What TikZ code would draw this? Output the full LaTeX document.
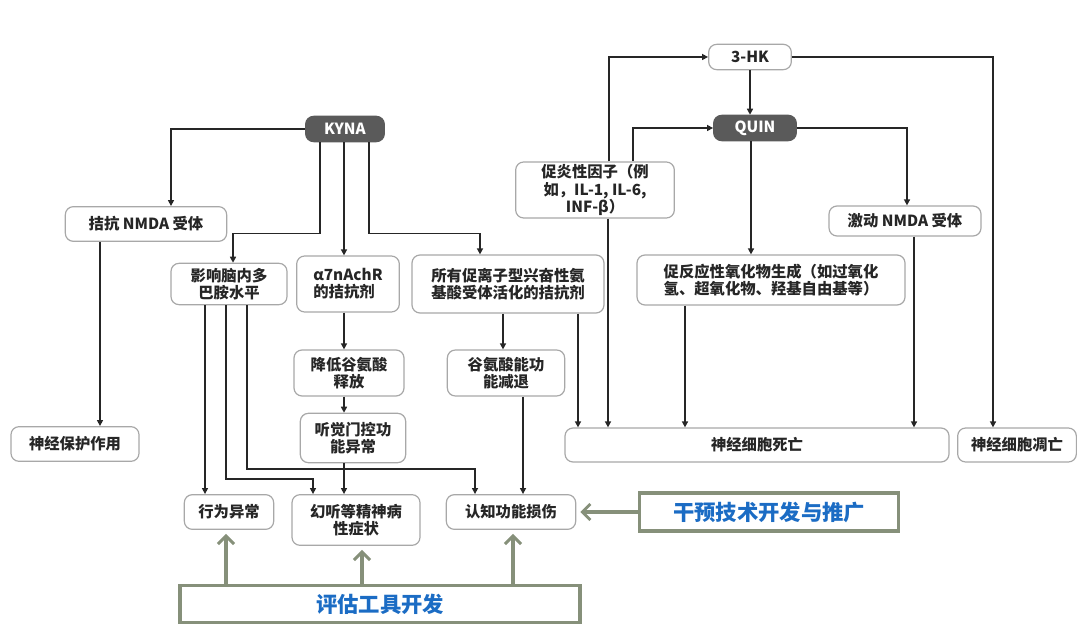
\documentclass[tikz,border=0pt]{standalone}
\usepackage{fontspec}
\setmainfont{Noto Sans CJK SC}
\usetikzlibrary{arrows.meta}
\usetikzlibrary{calc}

\definecolor{darkfill}{HTML}{5A5A5A}
\definecolor{boxgray}{HTML}{A8A8A8}
\definecolor{textdark}{HTML}{262626}
\definecolor{olive}{HTML}{86907A}
\definecolor{toolblue}{HTML}{1B6CC4}

\begin{document}
\begin{tikzpicture}
    [x=0.75pt, y=-0.75pt,
     box/.style={rectangle, rounded corners=6pt, draw=boxgray, line width=0.9pt, fill=white, text=textdark,
                 font=\bfseries\fontsize{11.5}{12.8}\selectfont, align=center, inner sep=2pt},
     dark/.style={box, draw=darkfill, fill=darkfill, text=white},
     tool/.style={rectangle, draw=olive, line width=2.6pt, text=toolblue, font=\bfseries\fontsize{16}{18}\selectfont},
     arr/.style={-{Triangle[length=4.5pt, width=4.5pt]}, line width=1.1pt, draw=black!85},
     garr/.style={-{Straight Barb[length=6pt, width=12pt, line width=2.2pt]}, line width=2.6pt, draw=olive}]

    \useasboundingbox (0,0) rectangle (1080,630);

    % kynurenic acid branch
    \node [dark, minimum width=59pt, minimum height=19pt] (kyna) at (345,129) {KYNA};
    \node [box, minimum width=121pt, minimum height=26pt] (nmda) at (146,224) {拮抗 NMDA 受体};
    \node [box, minimum width=96pt, minimum height=26pt] (protect) at (75,444) {神经保护作用};
    \node [box, minimum width=87pt, minimum height=31pt] (dopa) at (229,284) {影响脑内多\\巴胺水平};
    \node [box, minimum width=77pt, minimum height=42pt, align=left] (a7) at (348,284) {α7nAchR\\的拮抗剂};
    \node [box, minimum width=144pt, minimum height=43.5pt] (iglu) at (508,284) {所有促离子型兴奋性氨\\基酸受体活化的拮抗剂};
    \node [box, minimum width=82.5pt, minimum height=34.5pt] (lower) at (349,373) {降低谷氨酸\\释放};
    \node [box, minimum width=88pt, minimum height=34.5pt] (gluhypo) at (506,373) {谷氨酸能功\\能减退};
    \node [box, minimum width=79pt, minimum height=37pt] (gate) at (353,438) {听觉门控功\\能异常};
    \node [box, minimum width=67pt, minimum height=26pt] (behav) at (229,512) {行为异常};
    \node [box, minimum width=96pt, minimum height=38pt] (halluc) at (356,520) {幻听等精神病\\性症状};
    \node [box, minimum width=97pt, minimum height=26pt] (cogn) at (511,512) {认知功能损伤};

    % quinolinic acid branch
    \node [box, minimum width=62pt, minimum height=19pt] (hk) at (750,57) {3-HK};
    \node [dark, minimum width=62pt, minimum height=19pt] (quin) at (755,128) {QUIN};
    \node [box, minimum width=119pt, minimum height=42pt] (infl) at (595,190) {促炎性因子（例\\如，IL-1, IL-6,\\INF-β）};
    \node [box, minimum width=114pt, minimum height=22.5pt] (agon) at (905,221) {激动 NMDA 受体};
    \node [box, minimum width=201pt, minimum height=37.5pt, align=left] (ros) at (771,280) {促反应性氧化物生成（如过氧化\\氢、超氧化物、羟基自由基等）};
    \node [box, minimum width=288pt, minimum height=25.5pt] (death) at (757,445) {神经细胞死亡};
    \node [box, minimum width=89pt, minimum height=25.5pt] (apopt) at (1017,445) {神经细胞凋亡};

    % tools
    \node [tool, minimum width=300pt, minimum height=28pt] (assess) at (380,604) {评估工具开发};
    \node [tool, minimum width=194pt, minimum height=28.5pt] (interv) at (769,512) {干预技术开发与推广};

    \draw [arr] (kyna.west) -| ($(nmda.north)+(25,0)$);
    \draw [arr] ($(kyna.south)+(-25,0)$) -- ++(0,91) -| ($(dopa.north)+(4,0)$);
    \draw [arr] ($(kyna.south)+(-1,0)$) -- ($(a7.north)+(-4,0)$);
    \draw [arr] ($(kyna.south)+(24,0)$) -- ++(0,91) -| ($(iglu.north)+(-28,0)$);
    \draw [arr] ($(nmda.south)+(-46,0)$) -- ($(protect.north)+(25,0)$);

    \draw [arr] ($(dopa.south)+(-24,0)$) -- ($(behav.north)+(-24,0)$);
    \draw [arr] ($(dopa.south)+(-3,0)$) |- ($(halluc.north)+(-43,-15)$) -- ($(halluc.north)+(-43,0)$);
    \draw [arr] ($(dopa.south)+(18,0)$) |- ($(cogn.north)+(-36,-25)$) -- ($(cogn.north)+(-36,0)$);

    \draw [arr] ($(a7.south)+(-4,0)$) -- ($(lower.north)+(-5,0)$);
    \draw [arr] ($(lower.south)+(-5,0)$) -- ($(gate.north)+(-9,0)$);
    \draw [arr] ($(gate.south)+(-9,0)$) -- ($(halluc.north)+(-12,0)$);
    \draw [arr] ($(iglu.south)+(-5,0)$) -- ($(gluhypo.north)+(-3,0)$);
    \draw [arr] ($(iglu.south)+(70,0)$) -- ($(death.north)+(-179,0)$);
    \draw [arr] ($(gluhypo.south)+(17,0)$) -- ($(cogn.north)+(12,0)$);

    \draw [arr] ($(infl.north)+(14,0)$) |- (hk.west);
    \draw [arr] ($(infl.north)+(38,0)$) |- (quin.west);
    \draw [arr] ($(infl.south)+(13,0)$) -- ($(death.north)+(-149,0)$);
    \draw [arr] (hk.south) -- ($(quin.north)+(-5,0)$);
    \draw [arr] (hk.east) -| ($(apopt.north)+(-24,0)$);
    \draw [arr] (quin.east) -| ($(agon.north)+(2,0)$);
    \draw [arr] ($(quin.south)+(-4,0)$) -- ($(ros.north)+(-20,0)$);
    \draw [arr] ($(ros.south)+(-86,0)$) -- ($(death.north)+(-72,0)$);
    \draw [arr] ($(agon.south)+(9,0)$) -- ($(death.north)+(157,0)$);

    \draw [garr, shorten >=3pt] ($(assess.north)+(-154,0)$) -- ($(behav.south)+(-3,0)$);
    \draw [garr, shorten >=3pt] ($(assess.north)+(-18,0)$) -- ($(halluc.south)+(6,0)$);
    \draw [garr, shorten >=3pt] ($(assess.north)+(133,0)$) -- ($(cogn.south)+(2,0)$);
    \draw [garr, shorten >=3pt] (interv.west) -- (cogn.east);
\end{tikzpicture}
\end{document}
